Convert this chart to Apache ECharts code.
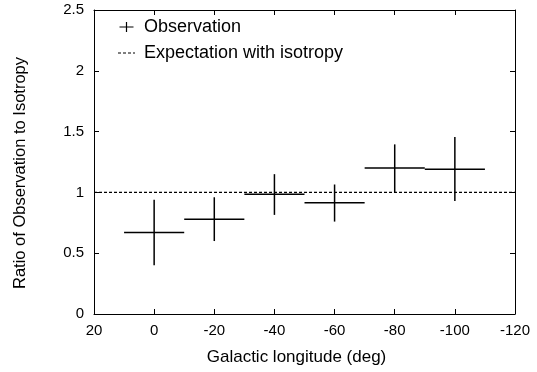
<!DOCTYPE html>
<html lang="en">

<head>
    <meta charset="UTF-8">
    <script src="https://cdn.jsdelivr.net/npm/echarts@6/dist/echarts.min.js"></script>
    <title>Ratio of Observation to Isotropy</title>
    <style>
        html, body { margin: 0; padding: 0; background: #fff; }
        #main { width: 537px; height: 372px; }
    </style>
</head>

<body>
    <div id="main"></div>
    <script>
        // galactic longitude bins (deg), centre +- half width
        var longitude = [0, -20, -40, -60, -80, -100];
        var binHalfWidth = [10, 10, 10, 10, 10, 10];
        // observed / isotropic ratio and its error range
        var ratio = [0.67, 0.78, 0.985, 0.915, 1.20, 1.19];
        var ratioLow = [0.40, 0.60, 0.815, 0.76, 1.00, 0.93];
        var ratioHigh = [0.94, 0.96, 1.15, 1.065, 1.395, 1.455];
        // isotropy expectation
        var isoX = [20, -120];
        var isoY = [1, 1];

        var font = "'Liberation Sans', Arial, sans-serif";

        var obsData = [];
        for (var i = 0; i < longitude.length; i++) {
            obsData.push([longitude[i], ratio[i], ratioLow[i], ratioHigh[i], binHalfWidth[i]]);
        }
        var isoData = [];
        for (var j = 0; j < isoX.length; j++) {
            isoData.push([isoX[j], isoY[j]]);
        }

        function errorCross(params, api) {
            var x = api.value(0), y = api.value(1);
            var lo = api.value(2), hi = api.value(3), hw = api.value(4);
            var c = api.coord([x, y]);
            var l = api.coord([x + hw, y]);
            var r = api.coord([x - hw, y]);
            var t = api.coord([x, hi]);
            var b = api.coord([x, lo]);
            var st = { stroke: '#000', lineWidth: 1.5 };
            return {
                type: 'group',
                children: [
                    { type: 'line', shape: { x1: l[0], y1: c[1], x2: r[0], y2: c[1] }, style: st },
                    { type: 'line', shape: { x1: c[0], y1: t[1], x2: c[0], y2: b[1] }, style: st }
                ]
            };
        }

        var boxLine = { onZero: false, lineStyle: { color: '#000', width: 1 } };
        var inTick = { show: true, inside: true, length: 5, lineStyle: { color: '#000' } };

        var chart = echarts.init(document.getElementById('main'));
        var option = {
            animation: false,
            textStyle: { fontFamily: font },
            grid: { left: 94, right: 22, top: 10, bottom: 58 },
            legend: {
                orient: 'vertical',
                left: 113,
                top: 13,
                itemWidth: 17,
                itemHeight: 10,
                itemGap: 8,
                textStyle: { fontSize: 18, color: '#000', fontFamily: font, padding: [0, 0, 0, 4] },
                data: [
                    { name: 'Observation', icon: 'path://M0,4.4H14V5.6H0Z M6.4,0H7.6V10H6.4Z', itemStyle: { color: '#000' } },
                    { name: 'Expectation with isotropy', icon: 'path://M0,0H3V1H0Z M5,0H8V1H5Z M10,0H13V1H10Z M15,0H17V1H15Z', itemStyle: { color: '#000' } }
                ]
            },
            xAxis: [{
                type: 'value',
                inverse: true,
                min: -120,
                max: 20,
                interval: 20,
                name: 'Galactic longitude (deg)',
                nameLocation: 'middle',
                nameGap: 35,
                nameTextStyle: { fontSize: 17, color: '#000', padding: [0, 16, 0, 0] },
                axisLine: boxLine,
                axisTick: inTick,
                axisLabel: { color: '#000', fontSize: 15, margin: 9 },
                splitLine: { show: false }
            }, {
                type: 'value',
                position: 'top',
                inverse: true,
                min: -120,
                max: 20,
                interval: 20,
                axisLine: boxLine,
                axisTick: inTick,
                axisLabel: { show: false },
                splitLine: { show: false }
            }],
            yAxis: [{
                type: 'value',
                min: 0,
                max: 2.5,
                interval: 0.5,
                name: 'Ratio of Observation to Isotropy',
                nameLocation: 'middle',
                nameRotate: 90,
                nameGap: 65,
                nameTextStyle: { fontSize: 16.5, color: '#000', padding: [0, 22, 0, 0] },
                axisLine: { show: true, onZero: false, lineStyle: { color: '#000', width: 1 } },
                axisTick: inTick,
                axisLabel: { color: '#000', fontSize: 15, margin: 10 },
                splitLine: { show: false }
            }, {
                type: 'value',
                position: 'right',
                min: 0,
                max: 2.5,
                interval: 0.5,
                axisLine: { show: true, onZero: false, lineStyle: { color: '#000', width: 1 } },
                axisTick: inTick,
                axisLabel: { show: false },
                splitLine: { show: false }
            }],
            series: [{
                name: 'Observation',
                type: 'custom',
                renderItem: errorCross,
                encode: { x: 0, y: 1 },
                itemStyle: { color: '#000' },
                data: obsData,
                z: 3
            }, {
                name: 'Expectation with isotropy',
                type: 'line',
                symbol: 'none',
                lineStyle: { color: '#000', width: 1.2, type: [3, 2] },
                itemStyle: { color: '#000' },
                data: isoData,
                z: 2
            }]
        };
        chart.setOption(option);
    </script>
</body>

</html>
